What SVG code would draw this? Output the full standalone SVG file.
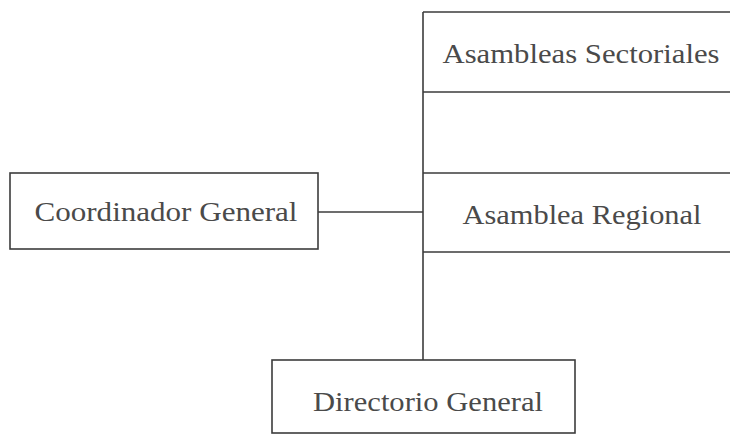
<svg xmlns="http://www.w3.org/2000/svg" width="730" height="436" viewBox="0 0 730 436">
<style>
.box{fill:#fff;stroke:#3c3c3c;stroke-width:1.6}
.ln{fill:none;stroke:#3c3c3c;stroke-width:1.6}
.t{font-family:"Liberation Serif","DejaVu Serif",serif;font-size:27px;fill:#4a4a4a;text-anchor:middle}
</style>
<rect width="730" height="436" fill="#fff"/>
<g id="connectors">
<line class="ln" x1="423" y1="12" x2="423" y2="360"/>
<line class="ln" x1="318" y1="212" x2="423" y2="212"/>
</g>
<g id="asambleas-sectoriales">
<path class="ln" d="M423 12 H731 M423 92 H731"/>
<text class="t" x="581" y="63" textLength="277" lengthAdjust="spacingAndGlyphs">Asambleas Sectoriales</text>
</g>
<g id="asamblea-regional">
<path class="ln" d="M423 173 H731 M423 252 H731"/>
<text class="t" x="582" y="224" textLength="239" lengthAdjust="spacingAndGlyphs">Asamblea Regional</text>
</g>
<g id="coordinador-general">
<rect class="box" x="10" y="173" width="308" height="76"/>
<text class="t" x="166" y="221" textLength="263" lengthAdjust="spacingAndGlyphs">Coordinador General</text>
</g>
<g id="directorio-general">
<rect class="box" x="272" y="360" width="303" height="73"/>
<text class="t" x="428" y="411" textLength="230" lengthAdjust="spacingAndGlyphs">Directorio General</text>
</g>
</svg>
